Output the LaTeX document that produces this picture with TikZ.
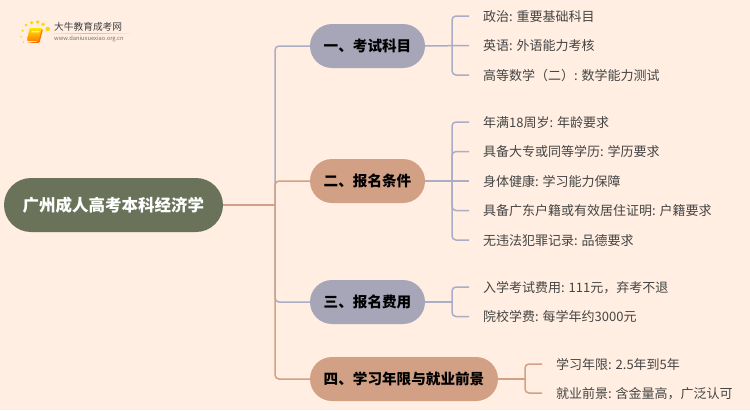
\documentclass[tikz,border=0pt]{standalone}
\usepackage{fontspec}
\setmainfont{Noto Sans CJK SC}
\definecolor{sfondo}{HTML}{FFEEE1}
\definecolor{lilla}{HTML}{A6A6B8}
\definecolor{linea}{HTML}{AAADC6}
\definecolor{salmone}{HTML}{D2A084}
\definecolor{oliva}{HTML}{6A7359}
\definecolor{testo}{HTML}{444444}
\begin{document}
\begin{tikzpicture}
    [x=1pt, y=-1pt,
    radice/.style={rectangle, rounded corners=27pt, fill=oliva, text=white, minimum width=219pt, minimum height=54pt, font=\fontsize{16.5}{18}\selectfont\bfseries},
    blocco/.style={rectangle, rounded corners=22pt, minimum height=44pt, minimum width=115pt, inner xsep=0pt, text=black, font=\fontsize{14.6}{18}\selectfont\bfseries},
    voce/.style={right, inner xsep=14pt, inner ysep=0pt, text height=13pt, text depth=2.8pt, text=testo, font=\fontsize{13}{16}\selectfont},
    ramo/.style={line width=1.5pt, rounded corners=4pt}]

    \fill[sfondo] (0,0) rectangle (750,410);
    \useasboundingbox (0,0) rectangle (750,410);

    % logo
    \foreach \px/\py/\pr in {21.3/36.7/.9, 22.7/30.7/1.1, 26/25/1.5, 31.7/22.7/1.8, 37.7/22/1.9, 43/24.3/1.9, 47.7/29/2.2, 23.3/42/.8}
        \fill[yellow!75!orange] (\px,\py) circle (\pr);
    \fill[orange!90!red, rounded corners=1pt] (27,42.8) -- (39.5,42.8) -- (43,29) -- (41,29) -- (38,41.5) -- cycle;
    \shade[top color=yellow!80!orange, bottom color=orange, rounded corners=1pt] (29.5,28) -- (42,28) -- (38.5,41) -- (27,41) -- cycle;
    \fill[yellow!45] (32,31) -- (39.5,31) -- (39.1,32.4) -- (31.6,32.4) -- cycle;
    \shade[left color=sfondo, right color=sfondo, middle color=black!25] (47,33) rectangle (133,33.8);
    \node[right, inner sep=0pt, text=black!75, font=\fontsize{9.7}{10}\selectfont] (logo) at (54,27) {大牛教育成考网};
    \node[right, inner sep=0pt, text=black!55, font=\fontsize{5.75}{6}\selectfont] (sito) at (54,39) {www.daniuxuexiao.org.cn};

    \node[radice] (centro) at (113.5,205) {广州成人高考本科经济学};

    \node[blocco, fill=lilla] (esami) at (367.5,46) {一、考试科目};
    \node[blocco, fill=salmone] (requisiti) at (367.5,181) {二、报名条件};
    \node[blocco, fill=lilla] (costi) at (367.5,302) {三、报名费用};
    \node[blocco, fill=salmone, minimum width=188pt] (durata) at (404,379) {四、学习年限与就业前景};

    \node[voce] (e1) at (469,16) {政治: 重要基础科目};
    \node[voce] (e2) at (469,45.5) {英语: 外语能力考核};
    \node[voce] (e3) at (469,75) {高等数学（二）: 数学能力测试};

    \node[voce] (r1) at (469,122) {年满18周岁: 年龄要求};
    \node[voce] (r2) at (469,151.5) {具备大专或同等学历: 学历要求};
    \node[voce] (r3) at (469,181) {身体健康: 学习能力保障};
    \node[voce] (r4) at (469,210.5) {具备广东户籍或有效居住证明: 户籍要求};
    \node[voce] (r5) at (469,240) {无违法犯罪记录: 品德要求};

    \node[voce] (c1) at (469,287) {入学考试费用: 111元，弃考不退};
    \node[voce] (c2) at (469,316.5) {院校学费: 每学年约3000元};

    \node[voce] (d1) at (542,364) {学习年限: 2.5年到5年};
    \node[voce] (d2) at (542,393) {就业前景: 含金量高，广泛认可};

    \coordinate (tronco) at (275,205);
    \coordinate (ge) at (452,46);
    \coordinate (gr) at (452,181);
    \coordinate (gc) at (452,302);
    \coordinate (gd) at (525,379);

    % rami principali
    \draw[ramo, linea] (tronco) |- (esami.west);
    \draw[ramo, salmone] (tronco) |- (requisiti.west);
    \draw[ramo, linea] (tronco) |- (costi.west);
    \draw[ramo, salmone] (tronco) |- (durata.west);
    \draw[ramo, salmone] (centro.east) -- (tronco);

    % rami delle voci
    \draw[ramo, linea] (esami.east) -- (e2.west);
    \draw[ramo, linea] (ge) |- (e1.west);
    \draw[ramo, linea] (ge) |- (e3.west);

    \draw[ramo, linea] (requisiti.east) -- (r3.west);
    \draw[ramo, linea] (gr) |- (r1.west);
    \draw[ramo, linea] (gr) |- (r2.west);
    \draw[ramo, linea] (gr) |- (r4.west);
    \draw[ramo, linea] (gr) |- (r5.west);

    \draw[ramo, linea] (costi.east) -- (gc);
    \draw[ramo, linea] (gc) |- (c1.west);
    \draw[ramo, linea] (gc) |- (c2.west);

    \draw[ramo, salmone] (durata.east) -- (gd);
    \draw[ramo, salmone] (gd) |- (d1.west);
    \draw[ramo, salmone] (gd) |- (d2.west);

\end{tikzpicture}
\end{document}
